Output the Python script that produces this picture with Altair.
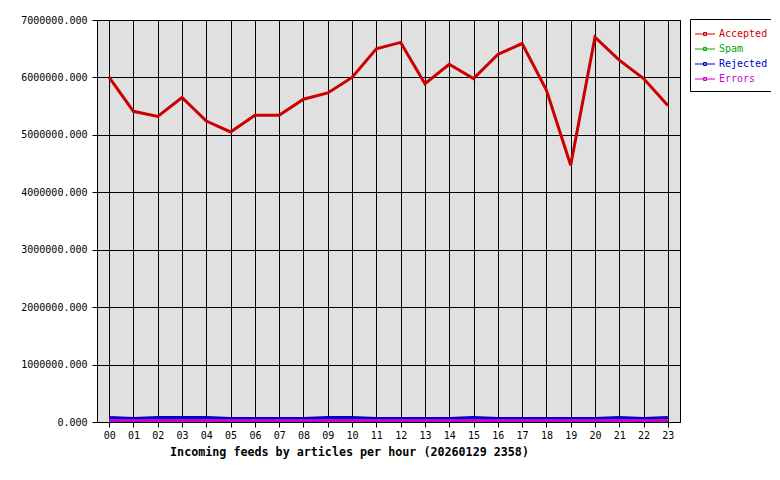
import altair as alt
import pandas as pd

hours = [f"{h:02d}" for h in range(24)]
series_names = ["Accepted", "Spam", "Rejected", "Errors"]
series_colors = ["#cc0000", "#00aa00", "#0000cc", "#cc00cc"]

accepted = [6000000, 5410000, 5320000, 5650000, 5240000, 5050000, 5340000, 5340000,
            5620000, 5730000, 6000000, 6500000, 6610000, 5890000, 6230000, 5980000,
            6400000, 6590000, 5780000, 4470000, 6700000, 6300000, 5980000, 5510000]
spam = [0] * 24
rejected = [78000, 60000, 78000, 78000, 78000, 60000, 60000, 60000,
            60000, 78000, 78000, 60000, 60000, 60000, 60000, 78000,
            60000, 60000, 60000, 60000, 60000, 78000, 60000, 78000]
errors = [25000] * 24

y_ticks = [0, 1000000, 2000000, 3000000, 4000000, 5000000, 6000000, 7000000]
title_text = "Incoming feeds by articles per hour (20260129 2358)"

rows = []
for name, vals in zip(series_names, [accepted, spam, rejected, errors]):
    for h, v in zip(hours, vals):
        rows.append({"hour": h, "series": name, "value": v})
df = pd.DataFrame(rows)

FONT = "DejaVu Sans Mono"

chart = alt.Chart(df).mark_line(strokeWidth=3, clip=True).encode(
    x=alt.X("hour:O", sort=hours,
            scale=alt.Scale(type="point", padding=0.5),
            axis=alt.Axis(title=title_text, labelAngle=0, grid=True, gridColor="black",
                          gridOpacity=1, gridWidth=1, domainColor="black", tickColor="black",
                          tickSize=5, labelPadding=3, labelFont=FONT, labelFontSize=10,
                          labelColor="black", titleFont=FONT, titleFontSize=11.7,
                          titleFontWeight="bold", titleColor="black", titleX=252,
                          titleY=24, titleBaseline="top", titleAlign="center")),
    y=alt.Y("value:Q", scale=alt.Scale(domain=[0, 7000000], nice=False, zero=True),
            axis=alt.Axis(title=None, values=y_ticks, format=".3f", grid=True,
                          gridColor="black", gridOpacity=1, gridWidth=1, domainColor="black",
                          tickColor="black", tickSize=5, labelPadding=5, labelFont=FONT,
                          labelFontSize=10, labelColor="black")),
    color=alt.Color("series:N", sort=series_names,
                    scale=alt.Scale(domain=series_names, range=series_colors),
                    legend=alt.Legend(title=None, orient="none", legendX=593, legendY=-1,
                                      padding=7, strokeColor="black", fillColor="white",
                                      cornerRadius=0, labelFont=FONT, labelFontSize=10,
                                      labelOffset=6, rowPadding=2, symbolSize=225,
                                      symbolStrokeWidth=1,
                                      symbolType="M-1.333,0H1.333M-0.2,-0.2H0.2V0.2H-0.2Z",
                                      labelColor={"expr": "scale('color', datum.value)"})),
).properties(
    width=583, height=402,
    padding={"left": 89, "top": 12, "right": 91, "bottom": 48},
    autosize="none",
    background="white",
).configure_view(
    fill="#e0e0e0", stroke="black", strokeWidth=1
)

chart.save("out.html", embed_options={"renderer": "svg", "actions": False})
